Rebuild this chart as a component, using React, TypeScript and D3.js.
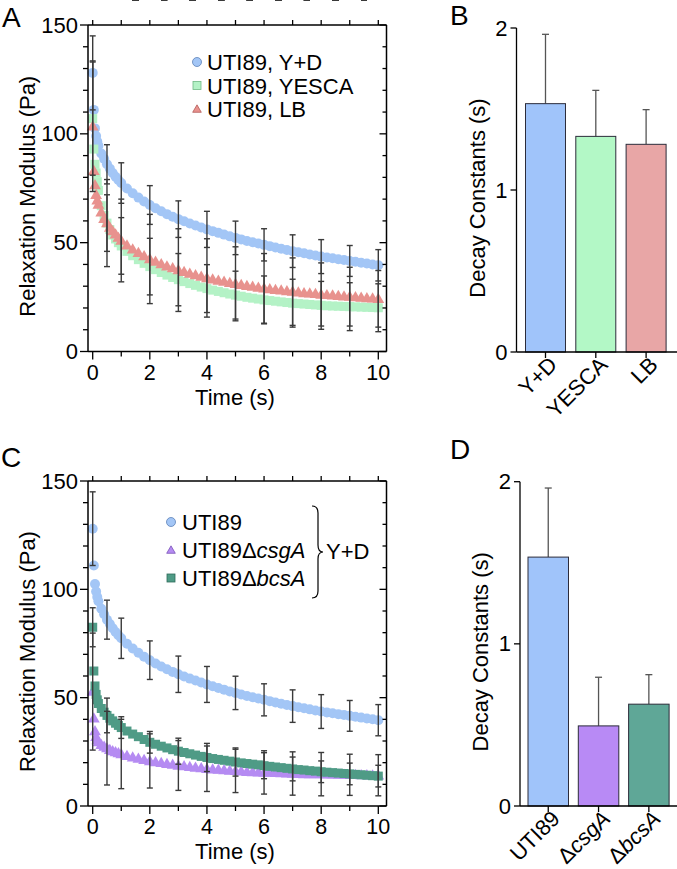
import React from 'react';
import * as d3 from 'd3';

// ---------- data ----------
const TIME = [0, 0.04, 0.08, 0.12, 0.16, 0.2, 0.3, 0.4, 0.5, 0.6, 0.7, 0.8, 0.9, 1,
  1.2, 1.4, 1.6, 1.8, 2, 2.2, 2.4, 2.6, 2.8, 3,
  3.2, 3.4, 3.6, 3.8, 4, 4.2, 4.4, 4.6, 4.8, 5,
  5.2, 5.4, 5.6, 5.8, 6, 6.2, 6.4, 6.6, 6.8, 7,
  7.2, 7.4, 7.6, 7.8, 8, 8.2, 8.4, 8.6, 8.8, 9,
  9.2, 9.4, 9.6, 9.8, 10];

const UTI89_YD = [128, 111, 102.5, 99, 96.5, 94.5, 91, 88.5, 86, 84, 82, 80.3, 78.8, 77.4,
  74.9, 72.7, 70.7, 68.9, 67.3, 65.8, 64.4, 63.1, 61.9, 60.8,
  59.8, 58.8, 57.9, 57, 56.1, 55.3, 54.5, 53.7, 52.9, 52.2,
  51.5, 50.8, 50.2, 49.6, 49, 48.4, 47.8, 47.2, 46.6, 46.1,
  45.6, 45.1, 44.6, 44.1, 43.6, 43.2, 42.8, 42.4, 42, 41.6,
  41.2, 40.8, 40.4, 40, 39.6];

const UTI89_YESCA = [107, 93, 86, 82, 78, 74, 67, 62.5, 59, 56, 53.5, 51.7, 50, 48.5,
  46, 44, 42.2, 40.5, 39, 37.6, 36.3, 35.1, 34, 33,
  32.1, 31.2, 30.4, 29.6, 28.9, 28.2, 27.6, 27, 26.4, 25.9,
  25.4, 24.9, 24.5, 24.1, 23.7, 23.4, 23.1, 22.8, 22.5, 22.2,
  22, 21.8, 21.6, 21.4, 21.2, 21, 20.9, 20.8, 20.7, 20.6,
  20.5, 20.4, 20.3, 20.2, 20.1];

const UTI89_LB = [103.5, 83, 76.5, 72, 69.5, 67.5, 64, 61, 59, 57, 55.3, 53.8, 52.3, 51,
  48.8, 47, 45.4, 43.9, 42.5, 41.3, 40.2, 39.2, 38.3, 37.4,
  36.6, 35.8, 35.1, 34.4, 33.8, 33.2, 32.6, 32.1, 31.6, 31.1,
  30.6, 30.2, 29.8, 29.4, 29, 28.7, 28.4, 28.1, 27.8, 27.5,
  27.2, 26.9, 26.7, 26.5, 26.2, 26, 25.8, 25.6, 25.4, 25.2,
  25, 24.8, 24.6, 24.4, 24.2];

const DCSGA_YD = [52.8, 40.5, 34.6, 32, 30.5, 29.5, 28.3, 27.4, 26.7, 26, 25.4, 24.9, 24.4, 24,
  23.2, 22.5, 21.9, 21.3, 20.8, 20.3, 19.9, 19.5, 19.1, 18.7,
  18.4, 18.1, 17.8, 17.5, 17.2, 17, 16.8, 16.6, 16.4, 16.2,
  16, 15.8, 15.7, 15.6, 15.5, 15.4, 15.3, 15.2, 15.1, 15,
  14.9, 14.8, 14.8, 14.7, 14.7, 14.6, 14.6, 14.5, 14.5, 14.4,
  14.4, 14.3, 14.3, 14.2, 14.2];

const DBCSA_YD = [82.5, 62.3, 55.4, 51.5, 49, 47.3, 45, 43.3, 41.8, 40.5, 39.3, 38.2, 37.2, 36.2,
  34.6, 33.2, 32, 30.7, 29.4, 28.5, 27.6, 26.8, 26, 25.3,
  24.7, 24.1, 23.5, 22.9, 22.4, 21.9, 21.5, 21.1, 20.7, 20.3,
  19.9, 19.6, 19.3, 19, 18.6, 18.3, 18, 17.7, 17.4, 17.1,
  16.8, 16.6, 16.3, 16.1, 15.8, 15.6, 15.4, 15.2, 15, 14.8,
  14.6, 14.4, 14.2, 14, 13.8];

const ERR_TIME = [0, 0.5, 1, 1.5, 2, 2.5, 3, 3.5, 4, 4.5, 5, 5.5, 6, 6.5, 7, 7.5, 8, 8.5, 9, 9.5, 10];
const SD_YD = [17, 9, 9.3, 8.7, 8.9, 8.5, 8.4, 8.1, 8.3, 8.1, 7.7, 7.6, 7.4, 7.4, 7.5, 7.8, 7.8, 7.5, 7.1, 7.5, 7.2];
const SD_YESCA = [26, 13, 13, 13, 13, 12.5, 12, 11.5, 11, 11, 11, 11, 11, 11, 11, 11, 11, 11, 11, 11, 11];
const SD_LB = [30, 20, 19, 20, 20.5, 20, 19, 18.5, 18, 17.5, 17, 16.5, 16, 15.5, 15.5, 15, 14.5, 14, 13.5, 13, 13];
const SD_CSGA = [27, 17, 16, 14, 12.5, 12, 11.5, 11, 10.5, 10.5, 10, 10, 10, 10, 10, 10, 10, 10, 9.5, 9.5, 9.5];
const SD_BCSA = [9, 8, 5, 5, 5, 6, 6, 6.5, 6.5, 6.5, 6.5, 6, 6, 6, 5.5, 5.5, 5, 5, 5, 5, 5];

const Y_TICK_LABELS = [0, 50, 100, 150];
const X_TICK_LABELS = [0, 2, 4, 6, 8, 10];

const B_CATS = ['Y+D', 'YESCA', 'LB'];
const B_VALS = [1.533, 1.331, 1.282];
const B_ERR = [0.428, 0.284, 0.214];

const D_CATS = ['UTI89', 'csgA', 'bcsA'];
const D_VALS = [1.535, 0.494, 0.628];
const D_ERR = [0.426, 0.3, 0.182];
const BAR_TICKS = [0, 1, 2];

// ---------- styles ----------
const FONT = "'Liberation Sans', Arial, Helvetica, sans-serif";
const C_BLUE = '#a3c6f6';
const C_GREEN = '#b4f2c6';
const C_RED = '#e8928e';
const C_PURPLE = '#b58bf2';
const C_TEAL = '#4f9b86';
const ERR_COLOR = '#3a3a3a';

type Series = { values: number[]; sd: number[]; color: string; shape: 'circle' | 'square' | 'triangle' };

function Marker({ shape, x, y, color, size, stroke }: { shape: string; x: number; y: number; color: string; size: number; stroke?: string }) {
  if (shape === 'circle') return <circle cx={x} cy={y} r={size / 2} fill={color} stroke={stroke || 'none'} strokeWidth={0.8} />;
  if (shape === 'square') return <rect x={x - size / 2} y={y - size / 2} width={size} height={size} fill={color} stroke={stroke || 'none'} strokeWidth={0.8} />;
  const p = d3.symbol().type(d3.symbolTriangle).size(size * size * 0.5)();
  return <path d={p || ''} transform={`translate(${x},${y + 0.8})`} fill={color} stroke={stroke || 'none'} strokeWidth={0.8} />;
}

function ScatterPanel({ top, bottom, series }: { top: number; bottom: number; series: Series[] }) {
  const left = 88, right = 386.5;
  const x = d3.scaleLinear().domain([0, 10]).range([92.7, 378.3]);
  const y = d3.scaleLinear().domain([0, 150]).range([bottom, top]);
  const yTicks = y.ticks(15);
  const xTicks = x.ticks(10);
  return (
    <g>
      {series.map((s, si) => (
        <g key={si}>
          {s.values.map((v, i) => (
            <Marker key={i} shape={s.shape} x={x(TIME[i])} y={y(v)} color={s.color} size={s.shape === 'circle' ? 10 : s.shape === 'square' ? 9 : 11} />
          ))}
        </g>
      ))}
      {series.map((s, si) => (
        <g key={'e' + si} stroke={ERR_COLOR} strokeWidth={1.4}>
          {ERR_TIME.map((t, i) => {
            const idx = TIME.indexOf(t);
            const m = s.values[idx];
            const x0 = x(t);
            const yt = y(m + s.sd[i]);
            const yb = y(Math.max(0, m - s.sd[i]));
            return (
              <g key={i}>
                <line x1={x0} x2={x0} y1={yt} y2={yb} />
                <line x1={x0 - 3} x2={x0 + 3} y1={yt} y2={yt} />
                <line x1={x0 - 3} x2={x0 + 3} y1={yb} y2={yb} />
              </g>
            );
          })}
        </g>
      ))}
      {/* frame */}
      <g stroke="#000" strokeWidth={1.5} fill="none">
        <line x1={left} x2={left} y1={top} y2={bottom} />
        <line x1={right} x2={right} y1={top} y2={bottom} />
        <line x1={left} x2={right} y1={bottom} y2={bottom} />
        <line x1={left} x2={right} y1={top} y2={top} />
      </g>
      <g stroke="#000" strokeWidth={1.3} fill="none">
        {yTicks.map(t => {
          const major = t % 50 === 0;
          return (
            <g key={'y' + t}>
              <line x1={left - (major ? 8 : 5)} x2={left} y1={y(t)} y2={y(t)} />
              <line x1={right - (major ? 7 : 4)} x2={right} y1={y(t)} y2={y(t)} />
            </g>
          );
        })}
        {xTicks.map(t => {
          const major = t % 2 === 0;
          return (
            <g key={'x' + t}>
              <line x1={x(t)} x2={x(t)} y1={bottom} y2={bottom + (major ? 8 : 5)} />
              <line x1={x(t)} x2={x(t)} y1={top} y2={top - 5} />
            </g>
          );
        })}
      </g>
      {Y_TICK_LABELS.map(t => (
        <text key={'yl' + t} x={left - 10} y={y(t) + 7.5} textAnchor="end" fontSize={22} fontFamily={FONT}>{t}</text>
      ))}
      {X_TICK_LABELS.map(t => (
        <text key={'xl' + t} x={x(t)} y={bottom + 28} textAnchor="middle" fontSize={21.5} fontFamily={FONT}>{t}</text>
      ))}
      <text x={235} y={bottom + 53} textAnchor="middle" fontSize={22} fontFamily={FONT}>Time (s)</text>
      <text transform={`translate(35,${(top + bottom) / 2 + 8}) rotate(-90)`} textAnchor="middle" fontSize={22} fontFamily={FONT}>Relaxation Modulus (Pa)</text>
    </g>
  );
}

function BarPanel({ axisX, top, bottom, cats, vals, errs, colors, r0, r1, pad, titleX, labelRender }:
  { axisX: number; top: number; bottom: number; cats: string[]; vals: number[]; errs: number[]; colors: string[]; r0: number; r1: number; pad: number; titleX: number; labelRender: (c: string) => React.ReactNode }) {
  const y = d3.scaleLinear().domain([0, 2]).range([bottom, top]);
  const xb = d3.scaleBand().domain(cats).range([r0, r1]).paddingInner(pad).paddingOuter(0);
  const bw = xb.bandwidth();
  return (
    <g>
      {cats.map((c, i) => {
        const cx = (xb(c) as number) + bw / 2;
        return (
          <g key={c}>
            <line x1={cx} x2={cx} y1={y(vals[i])} y2={y(vals[i] + errs[i])} stroke="#555" strokeWidth={1.3} />
            <line x1={cx - 3.5} x2={cx + 3.5} y1={y(vals[i] + errs[i])} y2={y(vals[i] + errs[i])} stroke="#555" strokeWidth={1.3} />
            <rect x={xb(c)} y={y(vals[i])} width={bw} height={bottom - y(vals[i])} fill={colors[i]} stroke="#2c2c3a" strokeWidth={1} />
          </g>
        );
      })}
      <g stroke="#000" strokeWidth={1.3}>
        <line x1={axisX} x2={axisX} y1={top} y2={bottom} />
        <line x1={axisX} x2={677} y1={bottom} y2={bottom} />
        {BAR_TICKS.map(t => <line key={t} x1={axisX - 6} x2={axisX} y1={y(t)} y2={y(t)} />)}
        {cats.map(c => {
          const cx = (xb(c) as number) + bw / 2;
          return <line key={c} x1={cx} x2={cx} y1={bottom} y2={bottom + 6} />;
        })}
      </g>
      {BAR_TICKS.map(t => (
        <text key={t} x={axisX - 9} y={y(t) + 7.5} textAnchor="end" fontSize={22} fontFamily={FONT}>{t}</text>
      ))}
      {cats.map(c => {
        const cx = (xb(c) as number) + bw / 2;
        return (
          <text key={'l' + c} transform={`translate(${cx + 13},${bottom + 14}) rotate(-45)`} textAnchor="end" fontSize={22} fontFamily={FONT}>{labelRender(c)}</text>
        );
      })}
      <text transform={`translate(${titleX},${(top + bottom) / 2 + 8}) rotate(-90)`} textAnchor="middle" fontSize={22} fontFamily={FONT}>Decay Constants (s)</text>
    </g>
  );
}

export default function App() {
  const seriesA: Series[] = [
    { values: UTI89_YD, sd: SD_YD, color: C_BLUE, shape: 'circle' },
    { values: UTI89_YESCA, sd: SD_YESCA, color: C_GREEN, shape: 'square' },
    { values: UTI89_LB, sd: SD_LB, color: C_RED, shape: 'triangle' },
  ];
  const seriesC: Series[] = [
    { values: UTI89_YD, sd: SD_YD, color: C_BLUE, shape: 'circle' },
    { values: DCSGA_YD, sd: SD_CSGA, color: C_PURPLE, shape: 'triangle' },
    { values: DBCSA_YD, sd: SD_BCSA, color: C_TEAL, shape: 'square' },
  ];
  const legendA = [
    { label: 'UTI89, Y+D', color: C_BLUE, shape: 'circle', stroke: '#5d82b8' },
    { label: 'UTI89, YESCA', color: C_GREEN, shape: 'square', stroke: '#6fb884' },
    { label: 'UTI89, LB', color: C_RED, shape: 'triangle', stroke: '#b35a57' },
  ];
  const legendC = [
    { main: 'UTI89', it: '', color: C_BLUE, shape: 'circle', stroke: '#5d82b8' },
    { main: 'UTI89Δ', it: 'csgA', color: C_PURPLE, shape: 'triangle', stroke: '#7a52b8' },
    { main: 'UTI89Δ', it: 'bcsA', color: C_TEAL, shape: 'square', stroke: '#2f6b5b' },
  ];
  return (
    <svg width={677} height={869} style={{ position: 'absolute', left: 0, top: 0, background: '#fff' }} fontFamily={FONT}>
      <rect width={677} height={869} fill="#fff" />
      {/* Panel A */}
      <ScatterPanel top={25} bottom={351.5} series={seriesA} />
      {legendA.map((l, i) => (
        <g key={l.label}>
          <Marker shape={l.shape} x={197} y={62 + i * 23.5} color={l.color} size={l.shape === 'circle' ? 9 : 8} stroke={l.stroke} />
          <text x={207} y={70 + i * 23.5} fontSize={22} fontFamily={FONT}>{l.label}</text>
        </g>
      ))}
      {/* Panel C */}
      <ScatterPanel top={481} bottom={806} series={seriesC} />
      {legendC.map((l, i) => (
        <g key={l.main + l.it}>
          <Marker shape={l.shape} x={171} y={522 + i * 28} color={l.color} size={l.shape === 'circle' ? 9 : 8} stroke={l.stroke} />
          <text x={182} y={530 + i * 28} fontSize={22} fontFamily={FONT}>{l.main}<tspan fontStyle="italic">{l.it}</tspan></text>
        </g>
      ))}
      <path d="M312,506 Q318,506 318,513 L318,545 Q318,552 323,552 Q318,552 318,559 L318,591 Q318,598 312,598" fill="none" stroke="#000" strokeWidth={1.2} />
      <text x={326} y={559} fontSize={22} fontFamily={FONT}>Y+D</text>

      {/* Panel B */}
      <BarPanel axisX={516.5} top={28} bottom={352} cats={B_CATS} vals={B_VALS} errs={B_ERR}
        colors={['#a0c4fa', '#b3f8c6', '#e8a6a6']} r0={525.5} r1={666.1} pad={0.205} titleX={485}
        labelRender={c => c} />
      {/* Panel D */}
      <BarPanel axisX={520} top={481.7} bottom={806} cats={D_CATS} vals={D_VALS} errs={D_ERR}
        colors={['#a0c4fa', '#b88af5', '#5fa797']} r0={528} r1={669.1} pad={0.195} titleX={488}
        labelRender={c => c === 'UTI89' ? c : <>Δ<tspan fontStyle="italic">{c}</tspan></>} />

      <text x={2} y={27} fontSize={28} fontFamily={FONT}>A</text>
      <text x={450} y={25} fontSize={28} fontFamily={FONT}>B</text>
      <text x={1} y={467} fontSize={28} fontFamily={FONT}>C</text>
      <text x={450} y={459} fontSize={28} fontFamily={FONT}>D</text>
    </svg>
  );
}
